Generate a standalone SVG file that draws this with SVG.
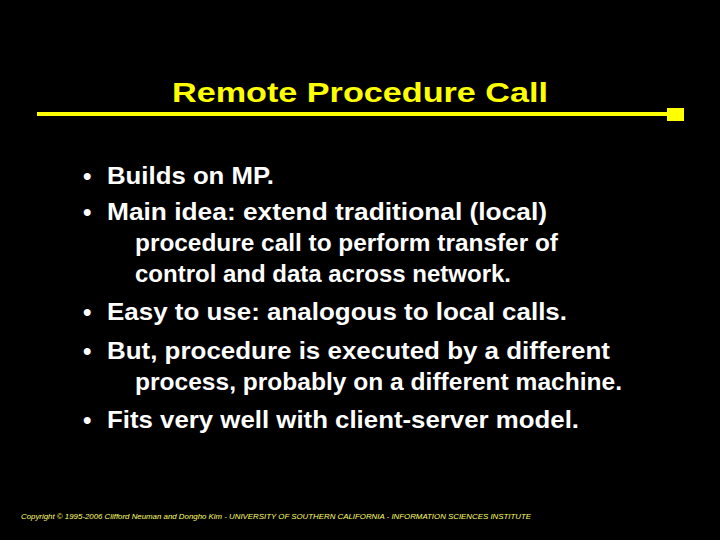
<svg xmlns="http://www.w3.org/2000/svg" width="720" height="540" viewBox="0 0 720 540">
<style>
.b{font-family:"Liberation Sans",Arial,sans-serif;font-weight:bold;font-size:24px;fill:#fff}
</style>
<rect width="720" height="540" fill="#000"/>
<text x="172" y="102" font-family="Liberation Sans,Arial,sans-serif" font-weight="bold" font-size="28" fill="#ffff00" textLength="376" lengthAdjust="spacingAndGlyphs">Remote Procedure Call</text>
<rect x="37" y="112" width="632" height="4" fill="#ffff00"/>
<rect x="667" y="108" width="17" height="13" fill="#ffff00"/>
<g class="b">
<text x="83" y="184">•</text><text x="107" y="184" textLength="167" lengthAdjust="spacingAndGlyphs">Builds on MP.</text>
<text x="83" y="220">•</text><text x="107" y="220" textLength="440" lengthAdjust="spacingAndGlyphs">Main idea: extend traditional (local)</text>
<text x="135" y="251" textLength="423" lengthAdjust="spacingAndGlyphs">procedure call to perform transfer of</text>
<text x="135" y="282" textLength="376" lengthAdjust="spacingAndGlyphs">control and data across network.</text>
<text x="83" y="320">•</text><text x="107" y="320" textLength="460" lengthAdjust="spacingAndGlyphs">Easy to use: analogous to local calls.</text>
<text x="83" y="359">•</text><text x="107" y="359" textLength="503" lengthAdjust="spacingAndGlyphs">But, procedure is executed by a different</text>
<text x="135" y="390" textLength="487" lengthAdjust="spacingAndGlyphs">process, probably on a different machine.</text>
<text x="83" y="428">•</text><text x="107" y="428" textLength="472" lengthAdjust="spacingAndGlyphs">Fits very well with client-server model.</text>
</g>
<text x="21" y="519" font-family="Liberation Sans,Arial,sans-serif" font-style="italic" font-size="7.2" fill="#ffff66" textLength="510" lengthAdjust="spacingAndGlyphs">Copyright © 1995-2006  Clifford Neuman and Dongho Kim - UNIVERSITY OF SOUTHERN CALIFORNIA - INFORMATION SCIENCES INSTITUTE</text>
</svg>
